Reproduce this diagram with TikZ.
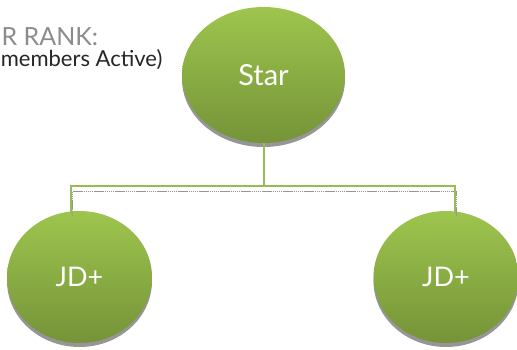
\documentclass[tikz,border=0pt]{standalone}
\usepackage{fontspec}
\setmainfont{Lato}
\usetikzlibrary{shapes.geometric,shadows}
\definecolor{node_green_top}{RGB}{158,197,78}
\definecolor{node_green_bot}{RGB}{117,147,56}
\definecolor{edge_green}{RGB}{150,188,84}
\definecolor{shade_gray}{RGB}{150,150,150}
\definecolor{title_gray}{RGB}{140,140,140}

\begin{document}
\begin{tikzpicture}[x=1pt,y=-1pt,semithick]
    \tikzstyle{node}=[ellipse, draw=none, inner sep=0pt, top color=node_green_top, bottom color=node_green_bot, text=white, drop shadow={shadow xshift=0pt, shadow yshift=-4pt, fill=shade_gray, opacity=1}]
    \tikzstyle{star}=[style=node, minimum width=163pt, minimum height=136pt, font=\fontsize{29}{32}\selectfont]
    \tikzstyle{jd}=[style=node, minimum width=145pt, minimum height=132pt, font=\fontsize{27}{30}\selectfont]
    \tikzstyle{link}=[draw=edge_green, line width=2pt]
    \tikzstyle{link shadow}=[draw=shade_gray, line width=1pt, dash pattern=on 1.5pt off 0.6pt, transform canvas={xshift=1.5pt,yshift=-5.5pt}]

    \useasboundingbox (0,0) rectangle (517,349);

    \node[anchor=base west, text=title_gray, font=\fontsize{25}{28}\selectfont] (title) at (-2,45) {R RANK:};
    \node[anchor=base east, text=black!85, font=\fontsize{22}{25}\selectfont] (active) at (166,66) {members Active)};

    \node[star] (s) at (263.5,75)  {Star};
    \node[jd]   (jdl) at (79.5,277) {JD+};
    \node[jd]   (jdr) at (446,277)  {JD+};
    \coordinate (hub) at (263.5,186);

    \draw[link shadow] ([xshift=-8.5pt]jdl.north) |- (hub) -| ([xshift=9pt]jdr.north);
    \draw[link] (s) -- (hub);
    \draw[link] (hub) -| ([xshift=-8.5pt,yshift=-3pt]jdl.north);
    \draw[link] (hub) -| ([xshift=9pt,yshift=-3pt]jdr.north);
\end{tikzpicture}
\end{document}
